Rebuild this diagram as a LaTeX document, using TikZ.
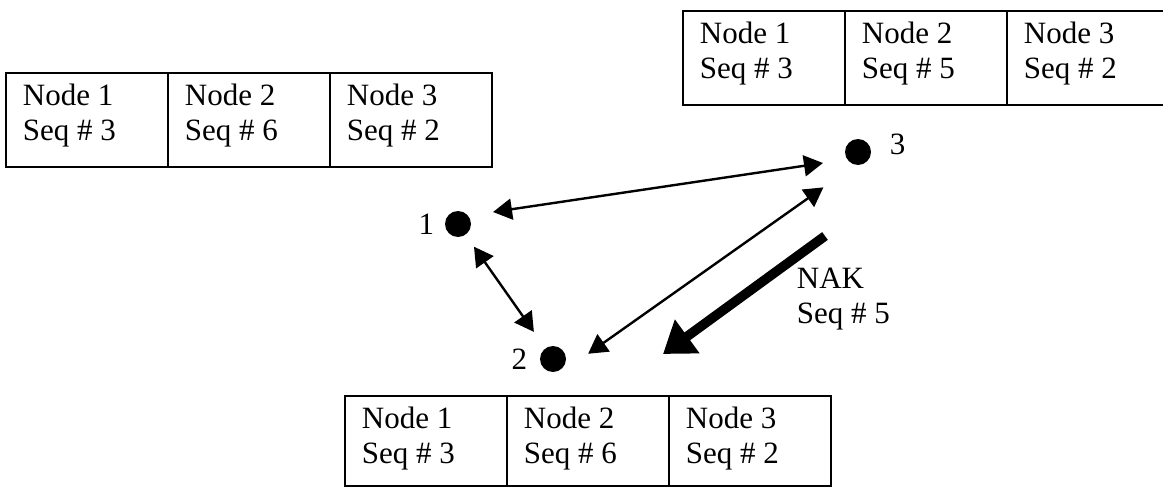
\documentclass[tikz,border=0pt]{standalone}
\usepackage{fontspec}
\setmainfont{Liberation Serif}
\usetikzlibrary{positioning,arrows.meta}

\begin{document}
\begin{tikzpicture}[x=0.5pt, y=0.5pt, line width=0.9pt,
  cell/.style={draw, rectangle, anchor=north west, inner sep=0pt, outer sep=0pt, minimum width=81pt, minimum height=47pt},
  celltext/.style={align=left, inner sep=0pt, font=\fontsize{15.5}{17.75}\selectfont},
  dot/.style={circle, fill=black, inner sep=0pt, outer sep=0pt, minimum size=13pt},
  num/.style={inner sep=0pt, font=\fontsize{15.5}{17.75}\selectfont},
  link/.style={{Triangle[length=9.5pt,width=10.5pt]}-{Triangle[length=9.5pt,width=10.5pt]}, line width=1.2pt}]

\useasboundingbox (0,0) rectangle (1163,489);

% table left
\node[cell] (l1) at (6,416) {};
\node[cell, right=0pt of l1] (l2) {};
\node[cell, right=0pt of l2] (l3) {};
\node[celltext, below right=5pt and 8pt of l1.north west] (l1t) {Node 1\\Seq \# 3};
\node[celltext, below right=5pt and 8pt of l2.north west] (l2t) {Node 2\\Seq \# 6};
\node[celltext, below right=5pt and 8pt of l3.north west] (l3t) {Node 3\\Seq \# 2};

% table top right
\node[cell] (r1) at (683,478) {};
\node[cell, right=0pt of r1] (r2) {};
\node[cell, right=0pt of r2] (r3) {};
\node[celltext, below right=5pt and 8pt of r1.north west] (r1t) {Node 1\\Seq \# 3};
\node[celltext, below right=5pt and 8pt of r2.north west] (r2t) {Node 2\\Seq \# 5};
\node[celltext, below right=5pt and 8pt of r3.north west] (r3t) {Node 3\\Seq \# 2};

% table bottom
\node[cell, minimum height=45pt] (b1) at (345,93) {};
\node[cell, minimum height=45pt, right=0pt of b1] (b2) {};
\node[cell, minimum height=45pt, right=0pt of b2] (b3) {};
\node[celltext, below right=5pt and 8pt of b1.north west] (b1t) {Node 1\\Seq \# 3};
\node[celltext, below right=5pt and 8pt of b2.north west] (b2t) {Node 2\\Seq \# 6};
\node[celltext, below right=5pt and 8pt of b3.north west] (b3t) {Node 3\\Seq \# 2};

% the three stations
\node[dot] (d1) at (458,265) {};
\node[dot] (d2) at (553,130) {};
\node[dot] (d3) at (858,337) {};
\node[num, left=5pt of d1] (n1) {1};
\node[num, left=6pt of d2] (n2) {2};
\node[num, right=9pt of d3, yshift=4pt] (n3) {3};

\draw[link, shorten <=17.7pt, shorten >=17.7pt] ([yshift=3.4pt]d1.center) -- ([yshift=-2.9pt]d3.center);
\draw[link, shorten <=13.9pt, shorten >=16.6pt] (d1.center) -- (d2.center);
\draw[link, shorten <=21.5pt, shorten >=21.2pt] ([yshift=-9.8pt]d2.center) -- ([yshift=-5.45pt]d3.center);

% NAK sent back to 2
\coordinate (nakfrom) at (825,253);
\coordinate (nakto) at (663,135);
\draw[-{Triangle[length=15pt,width=20pt]}, line width=4.8pt] (nakfrom) -- (nakto);
\node[celltext, anchor=north west] (nak) at (796,222) {NAK\\Seq \# 5};
\end{tikzpicture}
\end{document}
